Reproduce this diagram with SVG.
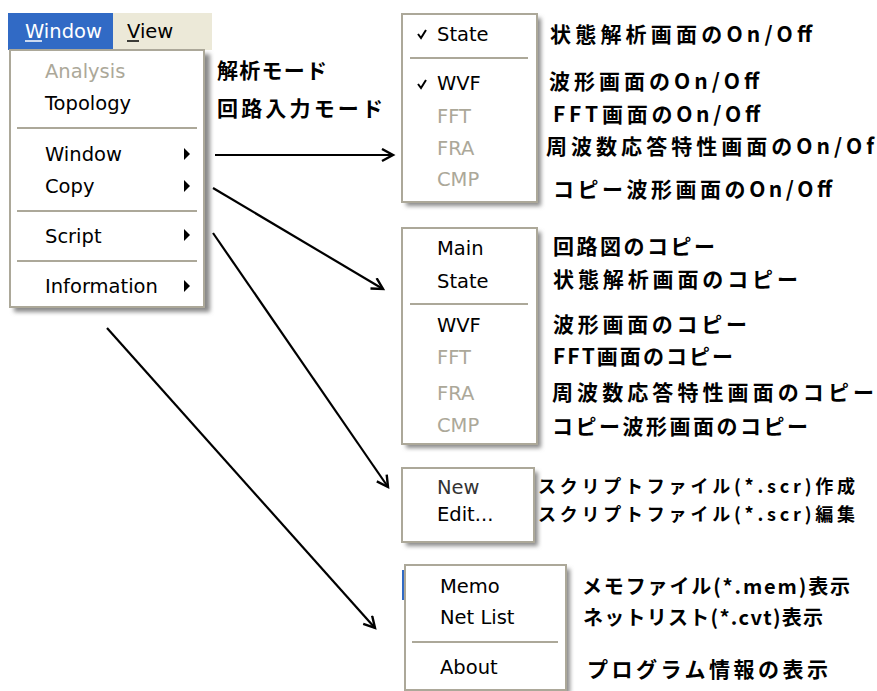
<svg xmlns="http://www.w3.org/2000/svg" width="877" height="691" viewBox="0 0 877 691">
  <style>
    .menu { fill: #ffffff; stroke: #aca899; stroke-width: 2; }
    .shadow { fill: #8a8a8a; filter: url(#blur); }
    .sep { stroke: #aca899; stroke-width: 2; }
    .item { font-family: "DejaVu Sans", "Liberation Sans", sans-serif; font-size: 19.5px; fill: #000000; }
    .dis { fill: #aca899; }
    .label { font-family: "Noto Sans CJK JP", "Noto Sans", sans-serif; font-size: 21px; font-weight: bold; fill: #000000; }
    .tight { font-size: 18px; }
    .conn { stroke: #000000; stroke-width: 2.2; fill: none; marker-end: url(#arrow); }
    .tri { fill: #000000; }
    .check { stroke: #000000; stroke-width: 2; fill: none; }
  </style>
  <defs>
    <filter id="blur" x="-10%" y="-10%" width="120%" height="120%">
      <feGaussianBlur stdDeviation="2"/>
    </filter>
    <marker id="arrow" markerUnits="userSpaceOnUse" markerWidth="16" markerHeight="16" refX="13" refY="7" orient="auto">
      <path d="M2,1 L13,7 L2,13" stroke="#000" stroke-width="2.4" fill="none"/>
    </marker>
  </defs>

  <rect width="877" height="691" fill="#ffffff"/>

  <!-- main menu with menu bar -->
  <g id="main-menu">
    <rect class="shadow" x="14" y="54" width="196" height="258"/>
    <rect x="8" y="13" width="204" height="37" fill="#ece9d8"/>
    <rect x="8" y="13" width="105" height="37" fill="#316ac5"/>
    <text class="item" x="25" y="38" style="fill:#ffffff">Window</text>
    <line x1="25" y1="41" x2="42" y2="41" stroke="#ffffff" stroke-width="1.5"/>
    <text class="item" x="127" y="38">View</text>
    <line x1="127" y1="41" x2="139" y2="41" stroke="#000" stroke-width="1.5"/>
    <rect class="menu" x="10" y="50" width="194" height="257"/>
    <text class="item dis" x="45" y="78">Analysis</text>
    <text class="item" x="45" y="110">Topology</text>
    <line class="sep" x1="17" y1="128" x2="197" y2="128"/>
    <text class="item" x="45" y="161">Window</text>
    <path class="tri" d="M184,148 L190,154 L184,160 Z"/>
    <text class="item" x="45" y="193">Copy</text>
    <path class="tri" d="M184,180 L190,186 L184,192 Z"/>
    <line class="sep" x1="17" y1="211" x2="197" y2="211"/>
    <text class="item" x="45" y="243">Script</text>
    <path class="tri" d="M184,229 L190,235 L184,241 Z"/>
    <line class="sep" x1="17" y1="261" x2="197" y2="261"/>
    <text class="item" x="45" y="293">Information</text>
    <path class="tri" d="M184,280 L190,286 L184,292 Z"/>
  </g>

  <g id="mode-labels">
    <text class="label" x="217" y="78" textLength="110" lengthAdjust="spacing">解析モード</text>
    <text class="label" x="217" y="116" textLength="166" lengthAdjust="spacing">回路入力モード</text>
  </g>

  <!-- Window submenu -->
  <g id="window-submenu">
    <rect class="shadow" x="406" y="18" width="135" height="188"/>
    <rect class="menu" x="402" y="14" width="135" height="188"/>
    <path class="check" d="M418,34 L421,38 L426,30"/>
    <text class="item" x="437" y="41">State</text>
    <line class="sep" x1="410" y1="58" x2="528" y2="58"/>
    <path class="check" d="M418,84 L421,88 L426,80"/>
    <text class="item" x="437" y="90">WVF</text>
    <text class="item dis" x="437" y="123">FFT</text>
    <text class="item dis" x="437" y="155">FRA</text>
    <text class="item dis" x="437" y="186">CMP</text>
  </g>
  <g id="window-labels">
    <text class="label" x="550" y="42" textLength="262" lengthAdjust="spacing">状態解析画面のOn/Off</text>
    <text class="label" x="549" y="89" textLength="210" lengthAdjust="spacing">波形画面のOn/Off</text>
    <text class="label" x="553" y="122" textLength="207" lengthAdjust="spacing">FFT画面のOn/Off</text>
    <text class="label" x="546" y="154" textLength="328" lengthAdjust="spacing">周波数応答特性画面のOn/Of</text>
    <text class="label" x="553" y="197" textLength="279" lengthAdjust="spacing">コピー波形画面のOn/Off</text>
  </g>

  <!-- Copy submenu -->
  <g id="copy-submenu">
    <rect class="shadow" x="406" y="232" width="135" height="216"/>
    <rect class="menu" x="402" y="228" width="135" height="216"/>
    <text class="item" x="437" y="255">Main</text>
    <text class="item" x="437" y="288">State</text>
    <line class="sep" x1="410" y1="304" x2="528" y2="304"/>
    <text class="item" x="437" y="332">WVF</text>
    <text class="item dis" x="437" y="364">FFT</text>
    <text class="item dis" x="437" y="400">FRA</text>
    <text class="item dis" x="437" y="432">CMP</text>
  </g>
  <g id="copy-labels">
    <text class="label" x="553" y="254" textLength="162" lengthAdjust="spacing">回路図のコピー</text>
    <text class="label" x="553" y="287" textLength="245" lengthAdjust="spacing">状態解析画面のコピー</text>
    <text class="label" x="553" y="332" textLength="194" lengthAdjust="spacing">波形画面のコピー</text>
    <text class="label" x="553" y="364" textLength="180" lengthAdjust="spacing">FFT画面のコピー</text>
    <text class="label" x="552" y="400" textLength="322" lengthAdjust="spacing">周波数応答特性画面のコピー</text>
    <text class="label" x="552" y="434" textLength="256" lengthAdjust="spacing">コピー波形画面のコピー</text>
  </g>

  <!-- Script submenu -->
  <g id="script-submenu">
    <rect class="shadow" x="406" y="472" width="132" height="74"/>
    <rect class="menu" x="402" y="468" width="132" height="74"/>
    <text class="item" x="437" y="494" style="fill:#333333">New</text>
    <text class="item" x="437" y="521">Edit...</text>
  </g>
  <g id="script-labels">
    <text class="label tight" x="538" y="493" textLength="317" lengthAdjust="spacing">スクリプトファイル(*.scr)作成</text>
    <text class="label tight" x="538" y="521" textLength="317" lengthAdjust="spacing">スクリプトファイル(*.scr)編集</text>
  </g>

  <!-- Information submenu -->
  <g id="info-submenu">
    <line x1="403" y1="570" x2="403" y2="600" stroke="#316ac5" stroke-width="2"/>
    <rect class="shadow" x="409" y="569" width="161" height="125"/>
    <rect class="menu" x="405" y="565" width="161" height="125"/>
    <text class="item" x="440" y="593">Memo</text>
    <text class="item" x="440" y="624">Net List</text>
    <line class="sep" x1="412" y1="642" x2="558" y2="642"/>
    <text class="item" x="440" y="674">About</text>
  </g>
  <g id="info-labels">
    <text class="label" x="582" y="594" textLength="268" lengthAdjust="spacing" style="font-size:20px">メモファイル(*.mem)表示</text>
    <text class="label" x="583" y="625" textLength="240" lengthAdjust="spacing" style="font-size:20px">ネットリスト(*.cvt)表示</text>
    <text class="label" x="587" y="677" textLength="241" lengthAdjust="spacing">プログラム情報の表示</text>
  </g>

  <!-- connectors from main menu entries to their submenus -->
  <g id="connectors">
    <path class="conn" d="M215,155 L393,155"/>
    <path class="conn" d="M213,188 L383,289"/>
    <path class="conn" d="M213,233 L388,487"/>
    <path class="conn" d="M107,328 L375,628"/>
  </g>
</svg>
